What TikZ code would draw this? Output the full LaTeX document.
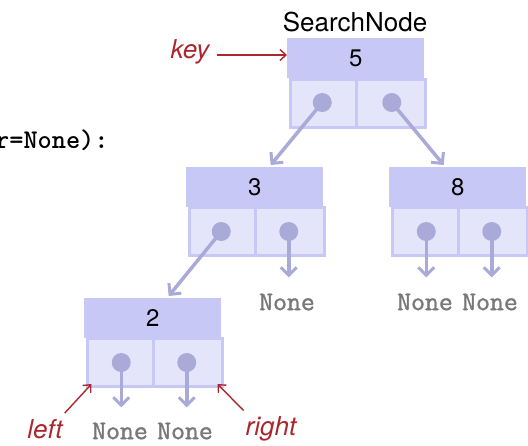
\documentclass[tikz,border=0pt]{standalone}
\usepackage{fontspec}
\setsansfont{TeX Gyre Heros}
\newfontfamily\nonefont[FakeBold=1.2]{Latin Modern Mono}
\usetikzlibrary{arrows.meta,calc}
\definecolor{keyc}{RGB}{200,200,246}
\definecolor{cellc}{RGB}{228,228,251}
\definecolor{ptrc}{RGB}{170,170,216}
\definecolor{redc}{RGB}{170,40,45}
\definecolor{nonec}{RGB}{120,120,120}
\tikzset{
  keybox/.style={fill=keyc, minimum width=137pt, minimum height=40pt, inner sep=0pt, font=\sffamily\fontsize{24}{24}\selectfont},
  cellbox/.style={fill=cellc, draw=keyc, line width=3pt, minimum width=68.5pt, minimum height=48pt, inner sep=0pt, anchor=north west},
  dotc/.style={circle, fill=ptrc, minimum size=19pt, inner sep=0pt},
  ptr/.style={draw=ptrc, line width=3.5pt, -{Straight Barb[length=8pt,width=16pt,line width=3pt]}},
  nonetxt/.style={text=nonec, font=\nonefont\fontsize{27}{27}\selectfont, inner sep=0pt},
  lab/.style={text=redc, font=\sffamily\itshape\fontsize{26}{26}\selectfont, inner sep=0pt},
  redarr/.style={draw=redc, line width=1.4pt, -{Straight Barb[length=6pt,width=11pt,line width=1.4pt]}},
}
\begin{document}
\begin{tikzpicture}[x=1pt,y=-1pt]
\useasboundingbox (0,0) rectangle (528,445);
% code fragment
\node[anchor=west, inner sep=0pt, font=\ttfamily\bfseries\fontsize{27}{27}\selectfont] (code) at (-5,140) {r=None):};
% caption
\node[font=\sffamily\fontsize{26}{26}\selectfont, inner sep=0pt] (cap) at (355,22) {SearchNode};
% node 5
\node[keybox, anchor=north west] (k5) at (287,38) {5};
\node[cellbox] (l5) at (288.5,78) {};
\node[cellbox] (r5) at (355,78) {};
\node[dotc] (d5l) at ($(l5.center)+(-2,-1)$) {};
\node[dotc] (d5r) at ($(r5.center)+(1,-1)$) {};
% node 3
\node[keybox, anchor=north west] (k3) at (186,167) {3};
\node[cellbox] (l3) at (187.5,206) {};
\node[cellbox] (r3) at (254,206) {};
\node[dotc] (d3l) at ($(l3.center)+(-2,0)$) {};
\node[dotc] (d3r) at ($(r3.center)+(-1,0)$) {};
% node 8
\node[keybox, anchor=north west] (k8) at (389,167) {8};
\node[cellbox] (l8) at (390.5,206) {};
\node[cellbox] (r8) at (457,206) {};
\node[dotc] (d8l) at ($(l8.center)+(0,0)$) {};
\node[dotc] (d8r) at ($(r8.center)+(-1,0)$) {};
% node 2
\node[keybox, anchor=north west] (k2) at (84,298) {2};
\node[cellbox] (l2) at (85.5,337) {};
\node[cellbox] (r2) at (152,337) {};
\node[dotc] (d2l) at ($(l2.center)+(0,0)$) {};
\node[dotc] (d2r) at ($(r2.center)+(-1,0)$) {};
% None labels
\node[nonetxt] (n3r) at (287,302) {None};
\node[nonetxt] (n8l) at (425,302) {None};
\node[nonetxt] (n8r) at (490,302) {None};
\node[nonetxt] (n2l) at (120,431) {None};
\node[nonetxt] (n2r) at (185,431) {None};
% pointers
\draw[ptr] (d5l.center) -- ($(k3.north)+(16,-2)$);
\draw[ptr] (d5r.center) -- ($(k8.north)+(-14,-2)$);
\draw[ptr] (d3l.center) -- ($(k2.north)+(16,-2)$);
\draw[ptr] (d3r.center) -- ($(d3r.center |- n3r.north)+(0,-16)$);
\draw[ptr] (d8l.center) -- ($(d8l.center |- n8l.north)+(0,-16)$);
\draw[ptr] (d8r.center) -- ($(d8r.center |- n8r.north)+(0,-16)$);
\draw[ptr] (d2l.center) -- ($(d2l.center |- n2l.north)+(0,-15)$);
\draw[ptr] (d2r.center) -- ($(d2r.center |- n2r.north)+(0,-15)$);
% red labels
\node[lab] (key) at (190,52) {key};
\node[lab] (left) at (45,429) {left};
\node[lab] (right) at (271,429) {right};
\coordinate (keyend) at ($(key.east)+(7,3)$);
\draw[redarr] (keyend) -- (k5.west |- keyend);
\draw[redarr] ($(left.north east)+(2,-6)$) -- ($(l2.south west)+(6,-4)$);
\draw[redarr] ($(right.north west)+(-2,-6)$) -- ($(r2.south east)+(-6,-4)$);
\end{tikzpicture}
\end{document}
